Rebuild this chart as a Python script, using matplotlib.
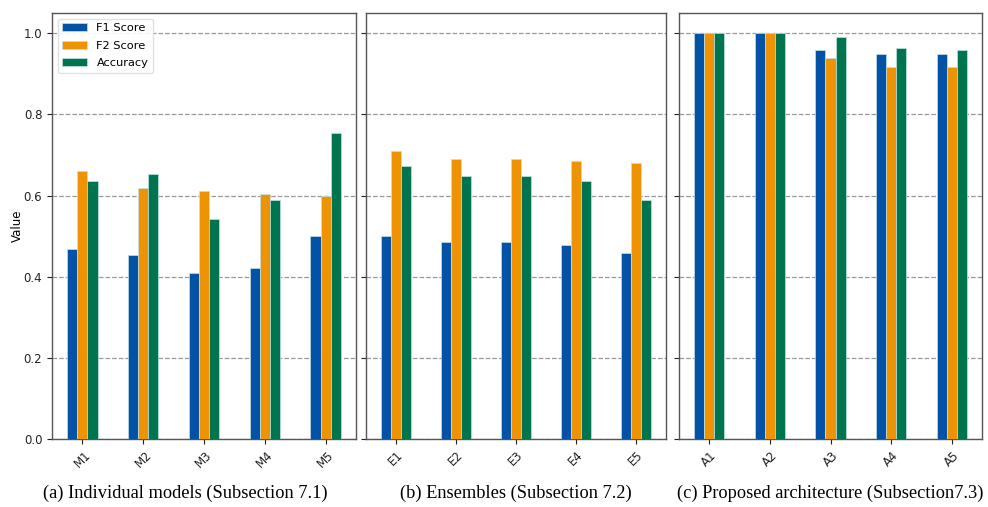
"""Grouped bar charts of F1 / F2 / accuracy for the three model families."""
import matplotlib
matplotlib.use("Agg")
import matplotlib.pyplot as plt
import numpy as np

plt.rcParams.update({
    "font.family": "DejaVu Sans",
    "axes.edgecolor": "#555555",
    "axes.linewidth": 1.0,
    "xtick.color": "#222222",
    "ytick.color": "#222222",
})

METRICS = ["F1 Score", "F2 Score", "Accuracy"]
COLORS = ["#0352a6", "#ee9304", "#00744f"]

# (a) individual models
models = ["M1", "M2", "M3", "M4", "M5"]
models_f1 = [0.468, 0.453, 0.410, 0.421, 0.500]
models_f2 = [0.660, 0.618, 0.611, 0.603, 0.600]
models_acc = [0.637, 0.653, 0.543, 0.589, 0.755]

# (b) ensembles
ensembles = ["E1", "E2", "E3", "E4", "E5"]
ens_f1 = [0.501, 0.486, 0.486, 0.479, 0.459]
ens_f2 = [0.709, 0.691, 0.691, 0.685, 0.680]
ens_acc = [0.672, 0.649, 0.649, 0.636, 0.588]

# (c) proposed architecture
archs = ["A1", "A2", "A3", "A4", "A5"]
arch_f1 = [1.0, 1.0, 0.960, 0.948, 0.948]
arch_f2 = [1.0, 1.0, 0.938, 0.917, 0.917]
arch_acc = [1.0, 1.0, 0.991, 0.964, 0.960]

panels = [
    (models, [models_f1, models_f2, models_acc], "(a) Individual models (Subsection 7.1)"),
    (ensembles, [ens_f1, ens_f2, ens_acc], "(b) Ensembles (Subsection 7.2)"),
    (archs, [arch_f1, arch_f2, arch_acc], "(c) Proposed architecture (Subsection7.3)"),
]

fig = plt.figure(figsize=(9.88, 5.07), dpi=100)
W, H = 988, 507
boxes = [(52, 356), (366, 666), (679, 982)]
# caption centres (subfigure (a) includes the y-label strip)
caption_x = [185, 516, 830]
top_px, bot_px = 13, 439

width = 0.5 / 3
axes = []
for i, ((labels, series, caption), (x0, x1)) in enumerate(zip(panels, boxes)):
    ax = fig.add_axes([x0 / W, 1 - bot_px / H, (x1 - x0) / W, (bot_px - top_px) / H],
                      sharey=axes[0] if axes else None)
    axes.append(ax)
    x = np.arange(len(labels))
    for j, (vals, name, col) in enumerate(zip(series, METRICS, COLORS)):
        ax.bar(x + (j - 1) * width, vals, width, color=col, label=name,
               edgecolor="#bfe3e6", linewidth=0.5, zorder=3)
    ax.set_xlim(-0.5, len(labels) - 0.5)
    ax.set_ylim(0, 1.05)
    ax.set_yticks([0.0, 0.2, 0.4, 0.6, 0.8, 1.0])
    ax.grid(axis="y", linestyle="--", color="#999999", linewidth=0.9, zorder=0)
    ax.set_xticks(x)
    ax.set_xticklabels(labels, rotation=45, fontsize=8.5)
    ax.tick_params(axis="both", labelsize=8.5, length=3.5)
    if i == 0:
        ax.set_ylabel("Value", fontsize=8.5, labelpad=0)
        ax.legend(loc="upper left", fontsize=8.2, framealpha=0.9,
                  edgecolor="#dddddd", handlelength=2.2, labelspacing=0.65)
    else:
        ax.tick_params(axis="y", labelleft=False)
    fig.text(caption_x[i] / W, 1 - 493 / H, caption, ha="center", va="center",
             fontsize=13.2, family="Liberation Serif")

fig.savefig("out.png", dpi=100)
